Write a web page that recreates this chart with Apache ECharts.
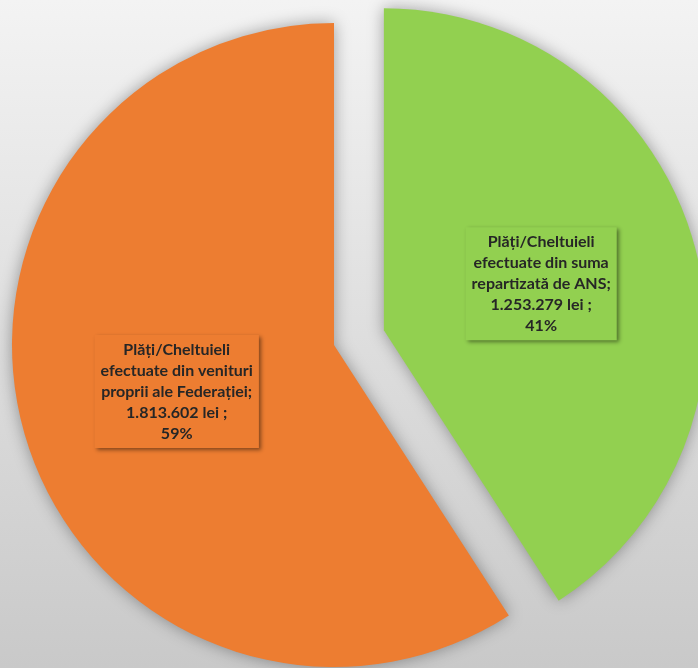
<!DOCTYPE html>
<html>
<head>
<meta charset="utf-8">
<script src="https://cdn.jsdelivr.net/npm/echarts@6/dist/echarts.min.js"></script>
<style>
html,body{margin:0;padding:0;}
#chart{width:698px;height:668px;}
</style>
</head>
<body>
<div id="chart"></div>
<script>
var categories = [
  'Plăți/Cheltuieli\nefectuate din suma\nrepartizată de ANS',
  'Plăți/Cheltuieli\nefectuate din venituri\nproprii ale Federației'
];
var values = [1253279, 1813602];
var valueLabels = ['1.253.279', '1.813.602'];
var percents = ['41%', '59%'];
var colors = ['#92D050', '#ED7D31'];
var labelShift = [[-4, -6], [0, 0]];

var chart = echarts.init(document.getElementById('chart'));
var data = categories.map(function (c, i) {
  return {
    name: c,
    value: values[i],
    selected: i === 0,
    itemStyle: { color: colors[i] },
    label: { backgroundColor: colors[i], offset: labelShift[i] }
  };
});
chart.setOption({
  backgroundColor: {
    type: 'linear', x: 0, y: 0, x2: 0, y2: 1,
    colorStops: [{ offset: 0, color: '#f3f3f3' }, { offset: 1, color: '#c9c9c9' }]
  },
  animation: false,
  series: [{
    type: 'pie',
    center: [334, 345],
    radius: [0, 322],
    startAngle: 90,
    clockwise: true,
    selectedMode: 'single',
    selectedOffset: 52,
    emphasis: { disabled: true },
    itemStyle: {
      shadowBlur: 16,
      shadowColor: 'rgba(0,0,0,0.35)',
      shadowOffsetX: 0,
      shadowOffsetY: 0
    },
    label: {
      show: true,
      position: 'inside',
      formatter: function (p) {
        var i = p.dataIndex;
        return p.name + ';\n' + valueLabels[i] + ' lei ;\n' + percents[i];
      },
      fontFamily: 'Lato, "Open Sans", sans-serif',
      fontWeight: 'bold',
      fontSize: 16,
      lineHeight: 21,
      color: '#262626',
      align: 'center',
      padding: [4, 6, 4, 6],
      shadowBlur: 4,
      shadowColor: 'rgba(0,0,0,0.45)',
      shadowOffsetX: 2,
      shadowOffsetY: 2
    },
    labelLine: { show: false },
    data: data
  }]
});
</script>
</body>
</html>
